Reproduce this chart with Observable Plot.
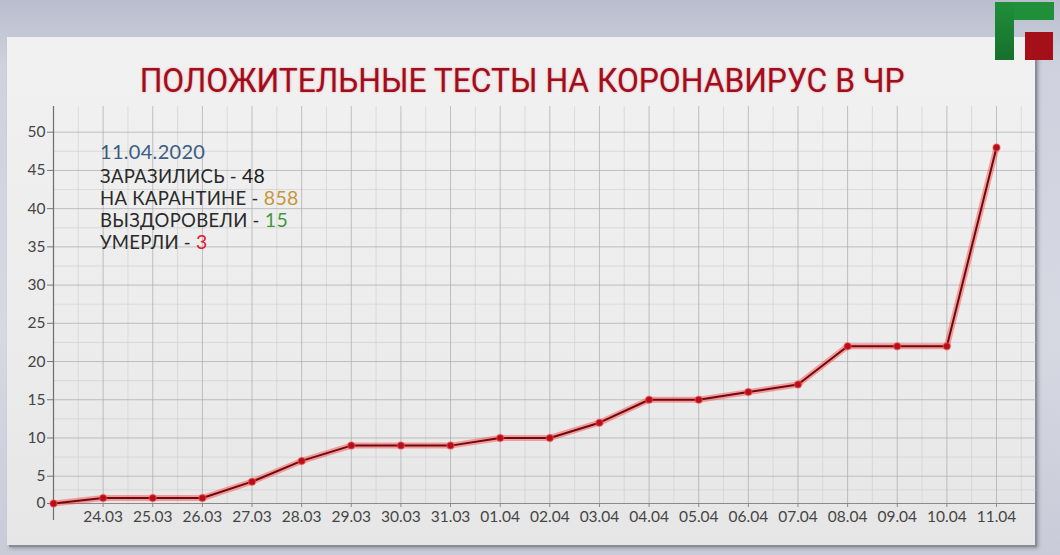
<!DOCTYPE html>
<html>
<head>
<meta charset="utf-8">
<script src="https://cdn.jsdelivr.net/npm/d3@7"></script>
<script src="https://cdn.jsdelivr.net/npm/@observablehq/plot@0.6"></script>
<style>
  html, body { margin: 0; padding: 0; }
  body { width: 1060px; height: 555px; overflow: hidden;
         background: linear-gradient(180deg, #b9bdcd 0%, #cfd2de 12%, #d6d8e2 60%, #c9ccd8 100%); }
  #wrap { position: relative; width: 1060px; height: 555px; }
  #panel { position: absolute; left: 7px; top: 37px; width: 1028px; height: 508px;
           background: linear-gradient(180deg, #f1f1f1 0%, #ececec 60%, #e6e6e6 100%);
           box-shadow: 2px 2px 0 #8b8d96, 3px 3px 4px rgba(60,60,80,0.45); }
  #title { position: absolute; left: 0; top: 60px; width: 1044px; text-align: center;
           font-family: Roboto, "Liberation Sans", sans-serif; font-weight: 400; font-size: 34px;
           color: #a00d1c; white-space: nowrap; letter-spacing: 0px;
           text-shadow: 0 0 2px rgba(230,40,40,0.5); }
  #title span { display: inline-block; transform-origin: center; }
  #chart { position: absolute; left: 0; top: 0; }
  #note { position: absolute; left: 100px; top: 139px; font-family: Lato, "DejaVu Sans", sans-serif;
          font-size: 18.5px; line-height: 22px; color: #2a2a2a; letter-spacing: 0.3px; }
  #note .row { height: 22px; white-space: nowrap; }
  #note .row span { display: inline-block; line-height: 21px; font-size: 19.5px; }
  #note .date { color: #3c5c82; font-size: 20px; line-height: 24px; height: 26px; }
  #logo { position: absolute; left: 994px; top: 1px; width: 62px; height: 60px; }
  #logo .g1 { position: absolute; left: 1px; top: 1px; width: 59px; height: 18px; background: #1f8f3a; }
  #logo .g2 { position: absolute; left: 1px; top: 1px; width: 19px; height: 58px; background: linear-gradient(180deg,#1f8f3a,#17702c); }
  #logo .r { position: absolute; left: 31px; top: 31px; width: 28px; height: 28px; background: #a50f18; }
</style>
</head>
<body>
<div id="wrap">
  <div id="panel"></div>
  <div id="logo"><div class="g1"></div><div class="g2"></div><div class="r"></div></div>
  <div id="chart"></div>
  <div id="title"><span>ПОЛОЖИТЕЛЬНЫЕ ТЕСТЫ НА КОРОНАВИРУС В ЧР</span></div>
  <div id="note"></div>
</div>
<script>
// ---- data ----
const dates = ["23.03","24.03","25.03","26.03","27.03","28.03","29.03","30.03","31.03","01.04",
               "02.04","03.04","04.04","05.04","06.04","07.04","08.04","09.04","10.04","11.04"];
const cases = [0, 1, 1, 1, 4, 7, 9, 9, 9, 10, 10, 12, 15, 15, 16, 17, 22, 22, 22, 48];
const yTicks = [0, 5, 10, 15, 20, 25, 30, 35, 40, 45, 50];
const noteDate = "11.04.2020";
const noteLabels = ["ЗАРАЗИЛИСЬ", "НА КАРАНТИНЕ", "ВЫЗДОРОВЕЛИ", "УМЕРЛИ"];
const noteValues = [48, 858, 15, 3];
const noteColors = ["#1a1a1a", "#c8963a", "#3f9a3a", "#e0202c"];

const table = dates.map((d, i) => ({date: d, value: cases[i]}));
const yMinor = yTicks.slice(0, -1).map(v => v + 2.5);
const axisFont = "Lato, 'DejaVu Sans', sans-serif";

const plot = Plot.plot({
  width: 1060,
  height: 555,
  marginLeft: 53,
  marginRight: 24,
  marginTop: 106,
  marginBottom: 52,
  style: {background: "transparent", overflow: "visible"},
  x: {type: "point", domain: dates, range: [53, 996], padding: 0, round: false, axis: null, label: null},
  y: {type: "linear", domain: [0, 5, 50], range: [503, 475.7, 131.7], axis: null, label: null},
  marks: [
    Plot.gridY(yMinor, {stroke: "#c8c8c8", strokeOpacity: 0.55}),
    Plot.gridX(dates, {stroke: "#cfcfcf", strokeOpacity: 0.65, dx: 24.8}),
    Plot.gridY(yTicks.slice(1), {stroke: "#a9a9a9", strokeOpacity: 0.7}),
    Plot.gridX(dates.slice(1), {stroke: "#a9a9a9", strokeOpacity: 0.7}),
    Plot.gridY([0], {stroke: "#8a8a8a", strokeOpacity: 1, strokeWidth: 1.2}),
    Plot.gridX([dates[0]], {stroke: "#6e6e6e", strokeOpacity: 1, strokeWidth: 1.2}),
    Plot.axisX([dates[0]], {tickSize: 17, text: null, label: null, stroke: "#6e6e6e", strokeWidth: 1.2}),
    Plot.axisX(dates.slice(1), {tickSize: 4, tickPadding: 3, stroke: "#8a8a8a",
      fontSize: 15.5, fill: "#454545", label: null, fontFamily: axisFont}),
    Plot.axisY(yTicks, {anchor: "left", tickSize: 6, tickPadding: 2, stroke: "#777",
      fontSize: 15.5, fill: "#454545", label: null, fontFamily: axisFont}),
    Plot.line(table, {x: "date", y: "value", stroke: "#ff3a3a", strokeOpacity: 0.45, strokeWidth: 6}),
    Plot.line(table, {x: "date", y: "value", stroke: "#6b0b10", strokeWidth: 2}),
    Plot.dot(table, {x: "date", y: "value", r: 3.5, fill: "#b3101c", stroke: "#ff5050", strokeOpacity: 0.5, strokeWidth: 1.5})
  ]
});
document.getElementById("chart").appendChild(plot);

// annotation
const note = document.getElementById("note");
const dd = document.createElement("div");
dd.className = "date";
dd.textContent = noteDate;
note.appendChild(dd);
noteLabels.forEach((lab, i) => {
  const row = document.createElement("div");
  row.className = "row";
  row.appendChild(document.createTextNode(lab + " - "));
  const s = document.createElement("span");
  s.textContent = noteValues[i];
  s.style.color = noteColors[i];
  row.appendChild(s);
  note.appendChild(row);
});

// fit title to its width in the reference
const ts = document.querySelector("#title span");
const w = ts.getBoundingClientRect().width;
ts.style.transform = `scaleX(${765 / w})`;
</script>
</body>
</html>
